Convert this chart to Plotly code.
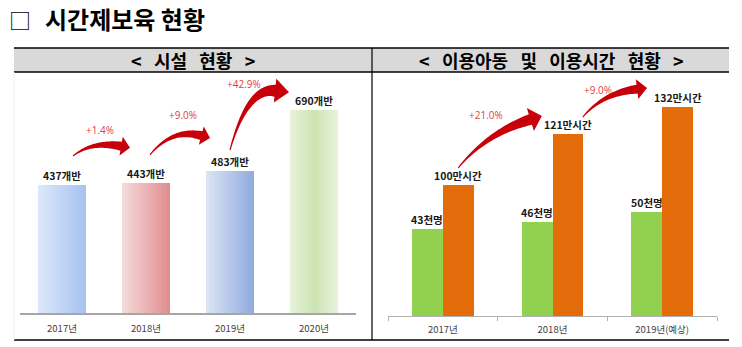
import numpy as np
import plotly.graph_objects as go

# ---------------- data ----------------
fac_years = ["2017년", "2018년", "2019년", "2020년"]
fac_values = [437, 443, 483, 690]
fac_labels = ["437개반", "443개반", "483개반", "690개반"]
fac_pct = ["+1.4%", "+9.0%", "+42.9%"]

use_years = ["2017년", "2018년", "2019년(예상)"]
children = [43, 46, 50]
children_labels = ["43천명", "46천명", "50천명"]
hours = [100, 121, 132]
hours_labels = ["100만시간", "121만시간", "132만시간"]
hours_pct = ["+21.0%", "+9.0%"]

title_text = "시간제보육 현황"
S2 = "\u00a0\u00a0\u00a0"
left_header = "<" + S2 + "시설" + S2 + "현황" + S2 + ">"
right_header = "<" + S2 + "이용아동" + S2 + "및" + S2 + "이용시간" + S2 + "현황" + S2 + ">"

# ---------------- layout constants (pixels) ----------------
W, H = 742, 347
FONT = "Noto Sans CJK KR"

L_X0, L_X1, L_BASE, L_TOP = 20, 356, 313, 80
L_PPU = 0.294
l_ymax = (L_BASE - L_TOP) / L_PPU

R_X0, R_X1, R_BASE, R_TOP = 388, 717, 316, 80
R_PPU = 2.42
g_min, o_min = 7.1, 45.8
r_span = (R_BASE - R_TOP) / R_PPU


def px(x):
    return x / W


def py(y):
    return 1 - y / H


def lx(i):
    return L_X0 + (i + 0.5) / 4 * (L_X1 - L_X0)


def ly(v):
    return L_BASE - v * L_PPU


R_BAND = (R_X1 - R_X0) / 3


def rx_orange(i):
    return R_X0 + (i + 0.5) * R_BAND + 0.14 * R_BAND


def ry_orange(v):
    return R_BASE - (v - o_min) * R_PPU


fig = go.Figure()


# ---------------- left bars (gradient strips) ----------------
def hex2rgb(h):
    h = h.lstrip("#")
    return np.array([int(h[i:i + 2], 16) for i in (0, 2, 4)], float)


def mix(a, b, t):
    c = hex2rgb(a) * (1 - t) + hex2rgb(b) * t
    return "rgb(%d,%d,%d)" % tuple(np.round(c))


grad = [("#dde8fc", "#a6c2ef", "lin"), ("#f5dcdc", "#e08c8c", "lin"),
        ("#dee5f3", "#8eaadf", "lin"), ("#e9f3de", "#cce3b1", "rad")]
N = 16
BW = 0.57
for k in range(N):
    t = (k + 0.5) / N
    cols = []
    for a, b, mode in grad:
        if mode == "lin":
            cols.append(mix(a, b, t))
        else:
            cols.append(mix(a, b, 1 - abs(2 * t - 1)))
    fig.add_trace(go.Bar(
        x=list(range(len(fac_values))), y=fac_values,
        offset=-BW / 2 + k * BW / N, width=BW / N * 1.02,
        marker=dict(color=cols, line=dict(width=0)),
        xaxis="x", yaxis="y", showlegend=False, hoverinfo="skip"))

# ---------------- right bars ----------------
fig.add_trace(go.Bar(x=list(range(3)), y=children, offset=-0.28, width=0.28,
                     marker=dict(color="#92d050", line=dict(width=0)),
                     xaxis="x2", yaxis="y2", showlegend=False))
fig.add_trace(go.Bar(x=list(range(3)), y=hours, offset=0, width=0.28,
                     marker=dict(color="#e46c0a", line=dict(width=0)),
                     xaxis="x2", yaxis="y3", showlegend=False))

ann = []
shapes = []

# value labels
VAL_FONT = dict(family=FONT, size=10.5, color="#1a1a1a")
for i, (v, lab) in enumerate(zip(fac_values, fac_labels)):
    ann.append(dict(x=i, y=v, xref="x", yref="y", text="<b>%s</b>" % lab,
                    showarrow=False, xanchor="center", yanchor="bottom", yshift=0,
                    font=VAL_FONT))
for i, (v, lab) in enumerate(zip(children, children_labels)):
    ann.append(dict(x=i - 0.14, y=v, xref="x2", yref="y2", text="<b>%s</b>" % lab,
                    showarrow=False, xanchor="center", yanchor="bottom", yshift=0,
                    font=VAL_FONT))
for i, (v, lab) in enumerate(zip(hours, hours_labels)):
    ann.append(dict(x=i + 0.14, y=v, xref="x2", yref="y3", text="<b>%s</b>" % lab,
                    showarrow=False, xanchor="center", yanchor="bottom", yshift=0,
                    font=VAL_FONT))


# ---------------- arrows ----------------
def arrow_path(T, E, ang, hl, hw, w0, w1, L):
    a = np.deg2rad(ang)
    d = np.array([np.cos(a), np.sin(a)])
    T = np.array(T, float)
    E = np.array(E, float)
    Hb = E - d * hl
    C = Hb - d * L
    left, right = [], []
    for t in np.linspace(0, 1, 40):
        B = (1 - t) ** 2 * T + 2 * t * (1 - t) * C + t ** 2 * Hb
        D = 2 * (1 - t) * (C - T) + 2 * t * (Hb - C)
        n = np.array([-D[1], D[0]]) / np.hypot(*D)
        w = w0 + (w1 - w0) * t ** 1.3
        left.append(B + n * w / 2)
        right.append(B - n * w / 2)
    nh = np.array([-d[1], d[0]])
    pts = left + [Hb + nh * hw, E, Hb - nh * hw] + right[::-1]
    s = "M " + " L ".join("%.5f,%.5f" % (px(p[0]), py(p[1])) for p in pts) + " Z"
    return s


def paper_text(x, y, text, font, xanchor="center"):
    return dict(x=px(x), y=py(y), xref="paper", yref="paper", text=text,
                showarrow=False, xanchor=xanchor, yanchor="middle", font=font)


PCT_FONT = dict(family="Open Sans", size=10, color="#e0403f")
ARROW_COLOR = "#c8000a"

# (tail dx, tail dy, tip dx, tip dy, angle, head len, head half width, w1, handle, pct dx, pct dy)
left_arrows = [(11, -28.5, -16, -35, 10, 9, 9.5, 9, 30, -30, -18),
               (4, -28, -20, -33, 15, 9, 9.5, 9, 30, -27, -23),
               (0, -21, -25, -18, 6, 14, 12, 12, 28, -45, -8)]
for k, (a, b, c, d_, ang, hl, hw, w1, L, tx, ty) in enumerate(left_arrows):
    T = (lx(k) + a, ly(fac_values[k]) + b)
    E = (lx(k + 1) + c, ly(fac_values[k + 1]) + d_)
    shapes.append(dict(type="path", xref="paper", yref="paper",
                       path=arrow_path(T, E, ang, hl, hw, 1.2, w1, L),
                       fillcolor=ARROW_COLOR, line=dict(width=0)))
    ann.append(paper_text(E[0] + tx, E[1] + ty, fac_pct[k], PCT_FONT))

right_arrows = [(0, -17, -26, -18, -17, 12, 12, 11, 45, -56, -1),
                (15, -17, -30.5, -19.5, -7, 10, 10, 9, 35, -49, 2)]
for k, (a, b, c, d_, ang, hl, hw, w1, L, tx, ty) in enumerate(right_arrows):
    T = (rx_orange(k) + a, ry_orange(hours[k]) + b)
    E = (rx_orange(k + 1) + c, ry_orange(hours[k + 1]) + d_)
    shapes.append(dict(type="path", xref="paper", yref="paper",
                       path=arrow_path(T, E, ang, hl, hw, 1.2, w1, L),
                       fillcolor=ARROW_COLOR, line=dict(width=0)))
    ann.append(paper_text(E[0] + tx, E[1] + ty, hours_pct[k], PCT_FONT))

# ---------------- table frame ----------------
shapes.append(dict(type="rect", xref="paper", yref="paper", x0=px(14), x1=px(729),
                   y0=py(72), y1=py(48), fillcolor="#d9d9d9", line=dict(width=0),
                   layer="below"))
for yy in (48, 72, 340):
    shapes.append(dict(type="line", xref="paper", yref="paper", x0=px(14), x1=px(729),
                       y0=py(yy), y1=py(yy), line=dict(color="#000000", width=1.5)))
shapes.append(dict(type="line", xref="paper", yref="paper", x0=px(372), x1=px(372),
                   y0=py(48), y1=py(340), line=dict(color="#000000", width=1.2)))
shapes.append(dict(type="line", xref="paper", yref="paper", x0=px(14), x1=px(14),
                   y0=py(72), y1=py(340), line=dict(color="#eeeeee", width=1)))

# headers and title
HDR_FONT = dict(family=FONT, size=18, color="#000000")
ann.append(paper_text(193, 60, "<b>%s</b>" % left_header, HDR_FONT))
ann.append(paper_text(551, 60, "<b>%s</b>" % right_header, HDR_FONT))
ann.append(paper_text(19.5, 19, "□", dict(family=FONT, size=22, color="#000000")))
ann.append(paper_text(43, 18, "<b>%s</b>" % title_text,
                      dict(family=FONT, size=24, color="#000000"), xanchor="left"))

fig.update_layout(
    width=W, height=H, margin=dict(l=0, r=0, t=0, b=0),
    paper_bgcolor="white", plot_bgcolor="rgba(0,0,0,0)",
    barmode="overlay", bargap=0,
    xaxis=dict(domain=[px(L_X0), px(L_X1)], range=[-0.5, 3.5],
               tickvals=list(range(4)), ticktext=fac_years, ticks="",
               showline=True, linecolor="#a6a6a6", linewidth=1.5,
               showgrid=False, zeroline=False, anchor="y",
               ticklabelstandoff=6,
               tickfont=dict(family=FONT, size=9.5, color="#404040")),
    yaxis=dict(domain=[py(L_BASE), py(L_TOP)], range=[0, l_ymax],
               visible=False, anchor="x"),
    xaxis2=dict(domain=[px(R_X0), px(R_X1)], range=[-0.5, 2.5],
                tickvals=list(range(3)), ticktext=use_years, ticks="",
                showline=True, linecolor="#b0b0b0", linewidth=1.2,
                showgrid=False, zeroline=False, anchor="y2",
                minor=dict(tickvals=[-0.5, 0.5, 1.5, 2.5], ticks="outside",
                           ticklen=4, tickcolor="#b0b0b0", tickwidth=1.2),
                ticklabelstandoff=4,
                tickfont=dict(family=FONT, size=9.5, color="#404040")),
    yaxis2=dict(domain=[py(R_BASE), py(R_TOP)], range=[g_min, g_min + r_span],
                visible=False, anchor="x2"),
    yaxis3=dict(domain=[py(R_BASE), py(R_TOP)], range=[o_min, o_min + r_span],
                visible=False, anchor="x2", overlaying="y2"),
    annotations=ann, shapes=shapes,
)

fig.write_html("out.html")
